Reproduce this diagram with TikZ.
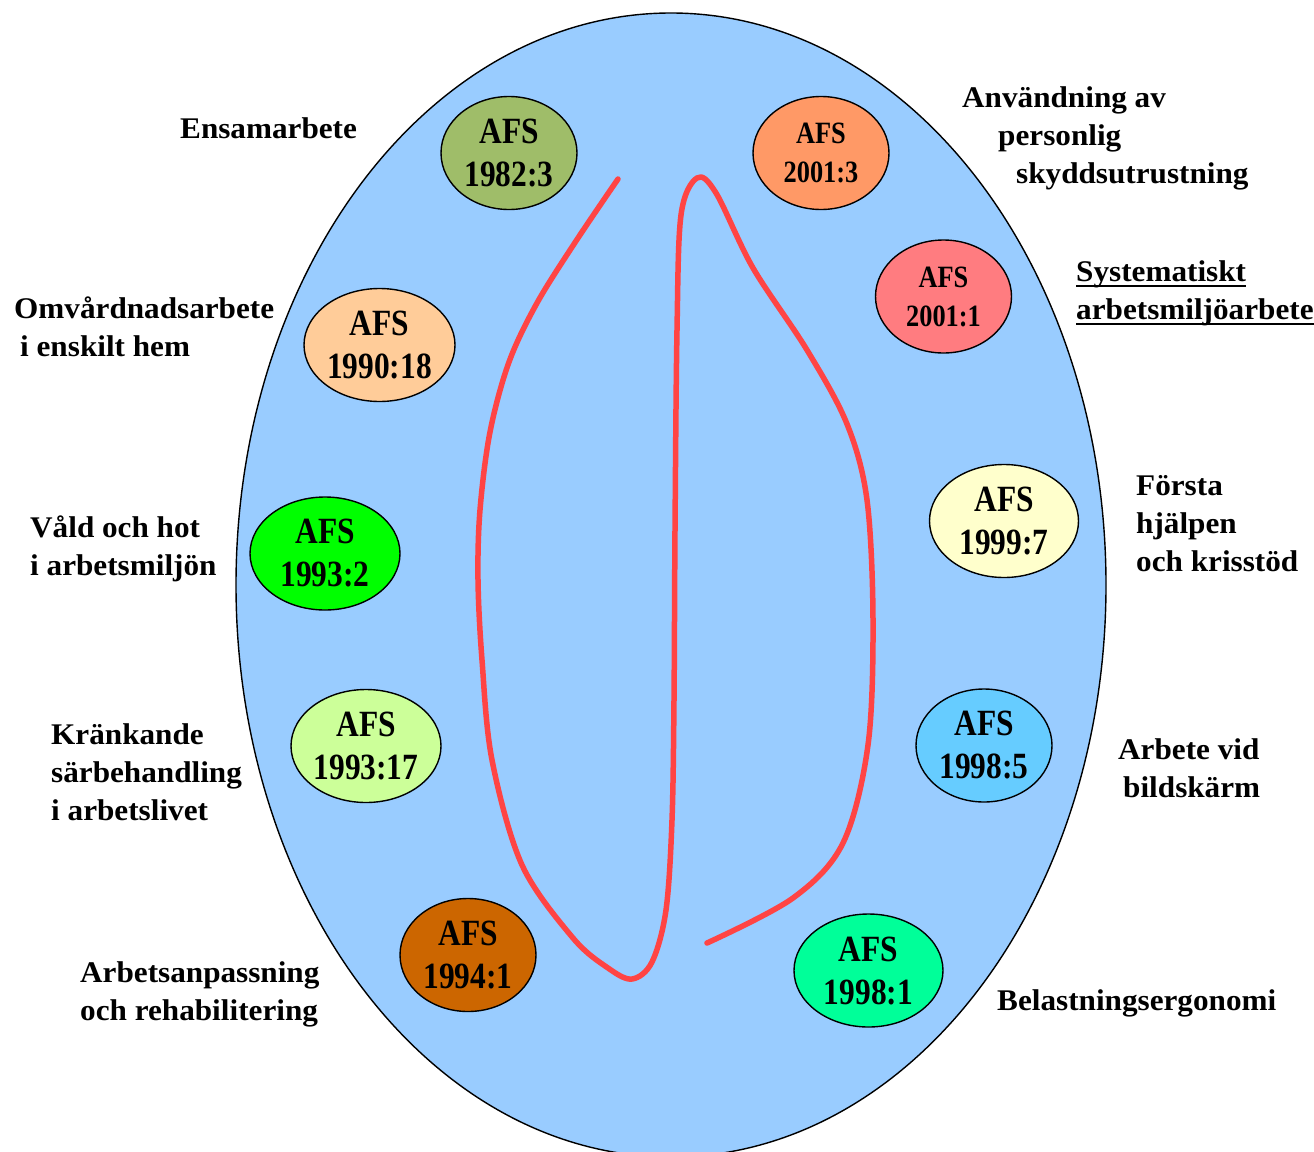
\documentclass[tikz,border=0pt]{standalone}
\usepackage{fontspec}
\setmainfont{Liberation Serif}
\newfontfamily\afsfont[FakeStretch=0.85]{Liberation Serif}
\newfontfamily\lblfont[FakeStretch=1.04]{Liberation Serif}
\usetikzlibrary{shapes.geometric}
\definecolor{bigblue}{HTML}{99CCFF}
\definecolor{cA}{HTML}{9FBD69}
\definecolor{cB}{HTML}{FF9966}
\definecolor{cC}{HTML}{FF7C80}
\definecolor{cD}{HTML}{FFCC99}
\definecolor{cE}{HTML}{FFFFCC}
\definecolor{cF}{HTML}{00FF00}
\definecolor{cG}{HTML}{CCFF99}
\definecolor{cH}{HTML}{66CCFF}
\definecolor{cI}{HTML}{CC6600}
\definecolor{cJ}{HTML}{00FF99}
\definecolor{curvered}{HTML}{FF4444}
\newcommand\ulx[1]{\setbox0\hbox{#1}\rlap{\rule[-5.5pt]{\wd0}{1.6pt}}\box0}
\begin{document}
\begin{tikzpicture}[x=1pt,y=-1pt,
  afs/.style={ellipse, draw=black, line width=1.4pt, inner sep=0pt, align=center,
    minimum height=113pt, font=\afsfont\bfseries\fontsize{37}{43}\selectfont},
  afssmall/.style={afs, font=\afsfont\bfseries\fontsize{31}{39}\selectfont},
  lbl/.style={anchor=north west, inner sep=0pt, align=left,
    font=\lblfont\bfseries\fontsize{30}{38}\selectfont}]
\useasboundingbox (0,0) rectangle (1314,1151);
\node[ellipse, draw=black, line width=1.4pt, fill=bigblue, inner sep=0pt,
  minimum width=870pt, minimum height=1144pt] (outer) at (671,585) {};

\node[afs, fill=cA, minimum width=136pt] (e1) at (509,153) {AFS\\1982:3};
\node[afssmall, fill=cB, minimum width=136pt] (e2) at (821,153) {AFS\\2001:3};
\node[afssmall, fill=cC, minimum width=136pt] (e3) at (943.5,296.5) {AFS\\2001:1};
\node[afs, fill=cD, minimum width=151pt] (e4) at (379.5,345) {AFS\\1990:18};
\node[afs, fill=cE, minimum width=149pt] (e5) at (1004,521) {AFS\\1999:7};
\node[afs, fill=cF, minimum width=150pt] (e6) at (325,553.5) {AFS\\1993:2};
\node[afs, fill=cG, minimum width=150pt] (e7) at (366,746) {AFS\\1993:17};
\node[afs, fill=cH, minimum width=136pt] (e8) at (984,745.5) {AFS\\1998:5};
\node[afs, fill=cI, minimum width=136pt] (e9) at (468,955) {AFS\\1994:1};
\node[afs, fill=cJ, minimum width=149pt] (e10) at (868.5,970.5) {AFS\\1998:1};

\node[lbl] (l1) at (180,117) {Ensamarbete};
\node[lbl] (l2) at (962,86) {Användning av\\\hspace*{36pt}personlig\\\hspace*{54pt}skyddsutrustning};
\node[lbl] (l3) at (1076,260) {\ulx{Systematiskt}\\\ulx{arbetsmiljöarbete}};
\node[lbl] (l4) at (14,297) {Omvårdnadsarbete\\\hspace*{6pt}i enskilt hem};
\node[lbl] (l5) at (30,516) {Våld och hot\\i arbetsmiljön};
\node[lbl] (l6) at (1136,475) {Första\\hjälpen\\och krisstöd};
\node[lbl] (l7) at (51,723) {Kränkande\\särbehandling\\i arbetslivet};
\node[lbl] (l8) at (1118,738) {Arbete vid\\\hspace*{5pt}bildskärm};
\node[lbl] (l9) at (80,961) {Arbetsanpassning\\och rehabilitering};
\node[lbl] (l10) at (997,989) {Belastningsergonomi};

\draw[curvered, line width=5.5pt, line cap=round, line join=round]
  plot[smooth, tension=0.55] coordinates {
  (618,179) (576,241) (537,303) (509,362) (490,432) (480,510) (478,580) (482,660)
  (492,760) (522,865) (573,938) (608,968) (632,979) (652,962) (666,910) (672,820)
  (674,700) (675,530) (677,330) (681,215) (697,178) (716,193) (753,268) (807,350)
  (847,424) (867,500) (873,620) (868,745) (843,843) (793,898) (707,943)};
\end{tikzpicture}
\end{document}
